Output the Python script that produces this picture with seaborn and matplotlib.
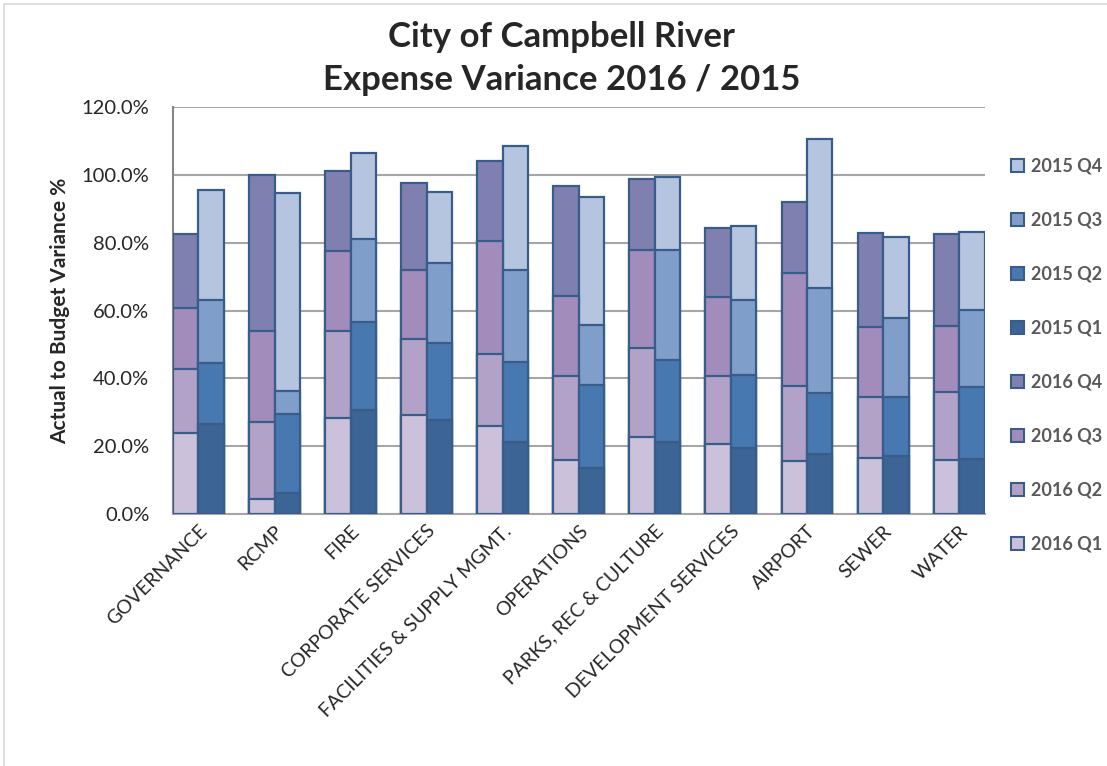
import numpy as np
import pandas as pd
import matplotlib
matplotlib.use('Agg')
import matplotlib.pyplot as plt
import seaborn as sns
from matplotlib.patches import Patch
from matplotlib.lines import Line2D
from matplotlib.ticker import PercentFormatter

# Expense variance by department, quarterly (%)
departments = ['GOVERNANCE', 'RCMP', 'FIRE', 'CORPORATE SERVICES',
               'FACILITIES & SUPPLY MGMT.', 'OPERATIONS', 'PARKS, REC & CULTURE',
               'DEVELOPMENT SERVICES', 'AIRPORT', 'SEWER', 'WATER']

q1_2016 = [24.0, 4.3, 28.2, 29.2, 25.9, 15.9, 22.8, 20.5, 15.7, 16.4, 15.9]
q2_2016 = [18.7, 22.7, 25.8, 22.3, 21.3, 24.8, 26.0, 20.2, 22.0, 18.2, 20.0]
q3_2016 = [18.1, 27.0, 23.6, 20.4, 33.3, 23.6, 29.0, 23.4, 33.3, 20.6, 19.5]
q4_2016 = [21.7, 46.0, 23.5, 25.6, 23.6, 32.5, 21.0, 20.3, 21.1, 27.7, 27.1]

q1_2015 = [26.4, 6.1, 30.7, 27.7, 21.1, 13.7, 21.3, 19.4, 17.7, 17.1, 16.2]
q2_2015 = [18.2, 23.4, 25.8, 22.8, 23.8, 24.3, 24.1, 21.6, 18.1, 17.3, 21.3]
q3_2015 = [18.5, 6.9, 24.6, 23.4, 27.0, 17.7, 32.4, 22.1, 30.9, 23.3, 22.6]
q4_2015 = [32.4, 58.1, 25.3, 20.9, 36.7, 37.8, 21.6, 21.8, 43.9, 23.9, 22.9]

quarters = ['Q1', 'Q2', 'Q3', 'Q4']
years = ['2016', '2015']
colors_2016 = ['#CCC1DA', '#B3A2C7', '#A28CBB', '#8080B0']
colors_2015 = ['#3C6494', '#4878B0', '#7F9ECA', '#B5C5DF']
edge = '#385D8A'

rows = []
for yr, qs in [('2016', [q1_2016, q2_2016, q3_2016, q4_2016]),
               ('2015', [q1_2015, q2_2015, q3_2015, q4_2015])]:
    cum = np.cumsum(np.array(qs), axis=0)
    for qi, q in enumerate(quarters):
        for d, v in zip(departments, cum[qi]):
            rows.append({'dept': d, 'year': yr, 'quarter': q, 'cum': v})
df = pd.DataFrame(rows)

sns.set_style('white')
plt.rcParams['font.family'] = ['Lato', 'DejaVu Sans']

fig = plt.figure(figsize=(11.07, 7.66), dpi=100)
ax = fig.add_axes([173/1107, 1 - 514/766, (985-173)/1107, (514-107)/766])

# draw cumulative totals from top quarter down so lower segments sit on top
for qi in [3, 2, 1, 0]:
    sub = df[df['quarter'] == quarters[qi]]
    sns.barplot(data=sub, x='dept', y='cum', hue='year', order=departments,
                hue_order=years, palette={'2016': colors_2016[qi], '2015': colors_2015[qi]},
                width=0.67, dodge=True, gap=0, errorbar=None, legend=False,
                edgecolor=edge, linewidth=1.6, saturation=1, ax=ax, zorder=3)

ax.set_xlim(-0.335, 10.34)
ax.set_ylim(0, 120)
ax.set_yticks(np.arange(0, 121, 20))
ax.yaxis.set_major_formatter(PercentFormatter(decimals=1))
ax.yaxis.grid(True, color='#A6A6A6', linewidth=1.5, zorder=0)
ax.set_axisbelow(True)
for s in ['top', 'right']:
    ax.spines[s].set_visible(False)
ax.spines['left'].set_color('#868686')
ax.spines['left'].set_linewidth(1.5)
ax.spines['bottom'].set_color('#A6A6A6')
ax.spines['bottom'].set_linewidth(1.5)
ax.tick_params(axis='y', labelsize=14.5, length=4, color='#868686', pad=13)
ax.tick_params(axis='x', length=0, pad=6)
ax.set_xticks(range(len(departments)))
ax.set_xticklabels(departments, rotation=45, ha='right', rotation_mode='anchor', fontsize=14)
ax.set_xlabel('')
ax.set_ylabel('Actual to Budget Variance %', fontsize=15, fontweight='bold', labelpad=8)

fig.text(0.507, 0.952, 'City of Campbell River', ha='center', va='center',
         fontsize=25, fontweight='bold')
fig.text(0.507, 0.896, 'Expense Variance 2016 / 2015', ha='center', va='center',
         fontsize=25, fontweight='bold')

handles = []
labels = []
for yr, cols in [('2015', colors_2015), ('2016', colors_2016)]:
    for qi in [3, 2, 1, 0]:
        handles.append(Patch(facecolor=cols[qi], edgecolor=edge, linewidth=1.5))
        labels.append(f'{yr} {quarters[qi]}')
leg = fig.legend(handles, labels, loc='upper left', bbox_to_anchor=(0.905, 0.806),
                 frameon=False, prop={'weight': 'bold', 'size': 13},
                 labelspacing=2.05, handlelength=0.72, handleheight=0.72,
                 handletextpad=0.4, borderpad=0)
for t in leg.get_texts():
    t.set_color('#595959')

# light chart-area border (top and left visible in the reference)
fig.add_artist(Line2D([0.004, 1.0], [0.995, 0.995], transform=fig.transFigure,
                      color='#D9D9D9', linewidth=1.2))
fig.add_artist(Line2D([0.004, 0.004], [0.0, 0.995], transform=fig.transFigure,
                      color='#D9D9D9', linewidth=1.2))

fig.savefig('out.png', dpi=100)
